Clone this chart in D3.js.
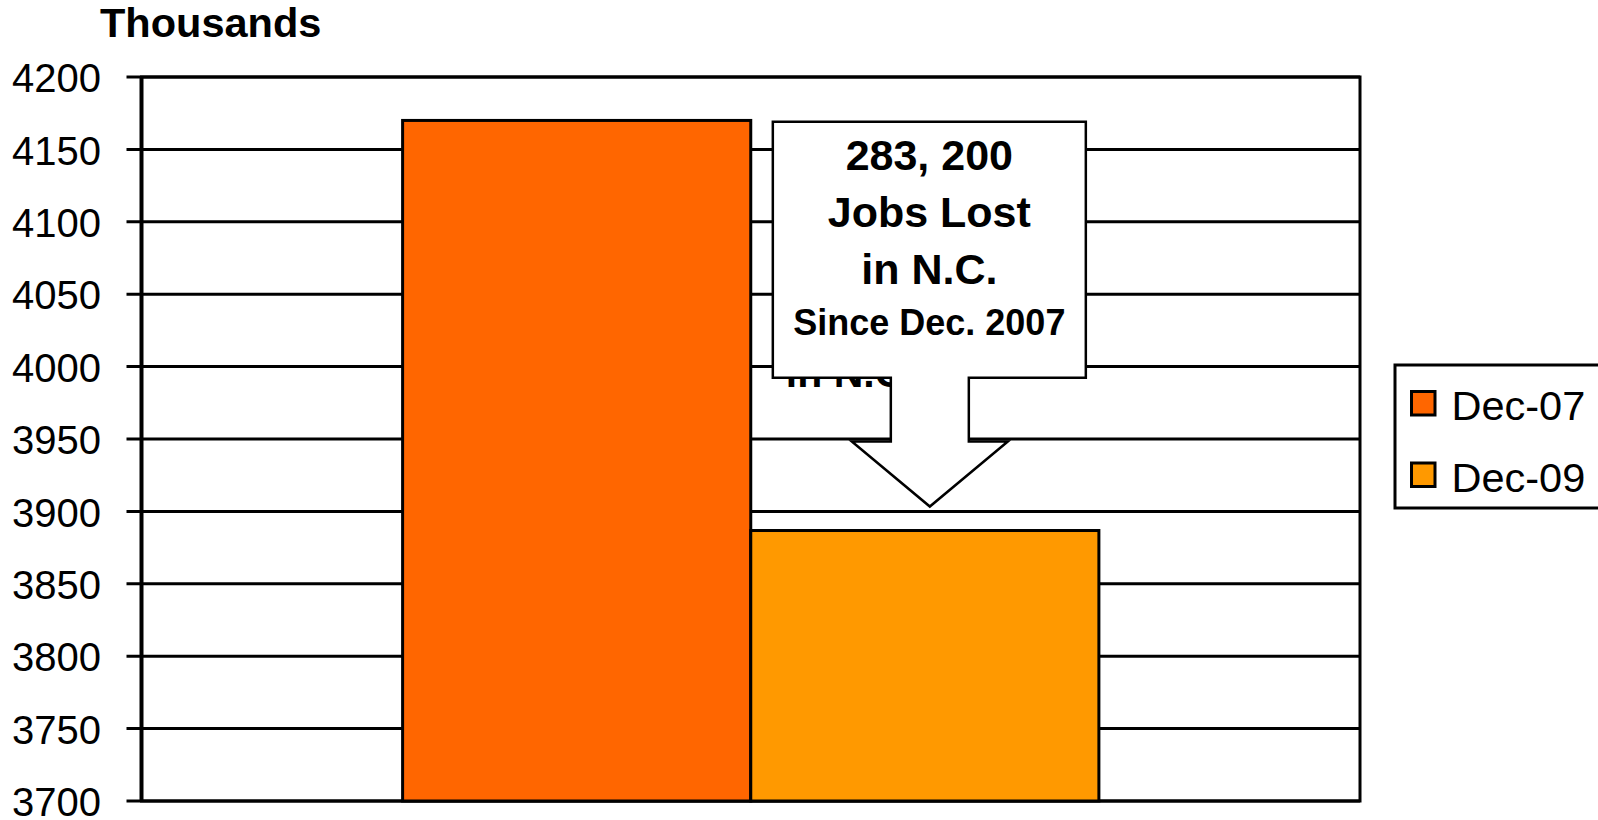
<!DOCTYPE html>
<html>
<head>
<meta charset="utf-8">
<script src="https://cdn.jsdelivr.net/npm/d3@7/dist/d3.min.js"></script>
<style>
  html, body { margin: 0; padding: 0; background: #fff; }
  svg { display: block; font-family: 'Liberation Sans', Arial, Helvetica, sans-serif; }
</style>
</head>
<body>
<div id="chart"></div>
<script>
// data (thousands of jobs, N.C.)
const categories = [''];
const seriesNames = ['Dec-07', 'Dec-09'];
const seriesValues = [4170.0, 3886.8];
const seriesColors = ['#FF6600', '#FF9900'];
const yDomain = [3700, 4200];
const yTickStep = 50;
const calloutLines = ['283, 200', 'Jobs Lost', 'in N.C.', 'Since Dec. 2007'];

const width = 1598;
const height = 820;
const plot = { left: 141.5, top: 77, right: 1360, bottom: 801 };

const svg = d3.select('#chart')
  .append('svg')
  .attr('width', width)
  .attr('height', height);

const y = d3.scaleLinear().domain(yDomain).range([plot.bottom, plot.top]);
const x0 = d3.scaleBand()
  .domain(categories)
  .range([plot.left, plot.right])
  .paddingInner(0)
  .paddingOuter(0.375);
const x1 = d3.scaleBand()
  .domain(seriesNames)
  .range([0, x0.bandwidth()]);

const yTicks = d3.range(yDomain[0], yDomain[1] + 1, yTickStep);

// gridlines + tick marks
svg.append('g')
  .selectAll('line')
  .data(yTicks)
  .join('line')
  .attr('x1', plot.left - 15)
  .attr('x2', plot.right)
  .attr('y1', (d) => y(d))
  .attr('y2', (d) => y(d))
  .attr('stroke', '#000')
  .attr('stroke-width', 3);

// tick labels
svg.append('g')
  .selectAll('text')
  .data(yTicks)
  .join('text')
  .attr('x', 101)
  .attr('y', (d) => y(d))
  .attr('dy', '0.38em')
  .attr('text-anchor', 'end')
  .attr('font-size', '40px')
  .attr('fill', '#000')
  .text((d) => d);

// axis title
svg.append('text')
  .attr('x', 100)
  .attr('y', 37)
  .attr('font-size', '41.5px')
  .attr('font-weight', 'bold')
  .text('Thousands');

// plot frame
svg.append('rect')
  .attr('x', plot.left)
  .attr('y', plot.top)
  .attr('width', plot.right - plot.left)
  .attr('height', plot.bottom - plot.top)
  .attr('fill', 'none')
  .attr('stroke', '#000')
  .attr('stroke-width', 3);

svg.append('line')
  .attr('x1', plot.left)
  .attr('x2', plot.left)
  .attr('y1', plot.top)
  .attr('y2', plot.bottom)
  .attr('stroke', '#000')
  .attr('stroke-width', 4);

// bars
const barData = seriesNames.map((name, i) => ({ name, value: seriesValues[i], color: seriesColors[i] }));
svg.append('g')
  .attr('transform', `translate(${x0(categories[0])},0)`)
  .selectAll('rect')
  .data(barData)
  .join('rect')
  .attr('x', (d) => x1(d.name))
  .attr('y', (d) => y(d.value))
  .attr('width', x1.bandwidth())
  .attr('height', (d) => y(yDomain[0]) - y(d.value))
  .attr('fill', (d) => d.color)
  .attr('stroke', '#000')
  .attr('stroke-width', 3);

// callout, anchored on the Dec-09 bar
const tipX = x0(categories[0]) + x1('Dec-09') + x1.bandwidth() / 2 + 5;
const tipY = y(seriesValues[1]) - 24;
const box = { left: tipX - 157, right: tipX + 156, top: 121.7, bottom: 377.7 };
const stem = { left: tipX - 39, right: tipX + 39, bottom: tipY - 65 };
const wing = { left: tipX - 78, right: tipX + 78 };

// stray label partly hidden under the callout
svg.append('text')
  .attr('x', box.left + 13)
  .attr('y', 387)
  .attr('font-size', '41px')
  .attr('font-weight', 'bold')
  .text('in N.C.');

const p = d3.path();
p.moveTo(box.left, box.top);
p.lineTo(box.right, box.top);
p.lineTo(box.right, box.bottom);
p.lineTo(stem.right, box.bottom);
p.lineTo(stem.right, stem.bottom);
p.lineTo(wing.right, stem.bottom);
p.lineTo(tipX, tipY);
p.lineTo(wing.left, stem.bottom);
p.lineTo(stem.left, stem.bottom);
p.lineTo(stem.left, box.bottom);
p.lineTo(box.left, box.bottom);
p.closePath();

svg.append('path')
  .attr('d', p.toString())
  .attr('fill', '#fff')
  .attr('stroke', '#000')
  .attr('stroke-width', 2.5);

const cx = (box.left + box.right) / 2;
const lineY = [170, 227, 284, 335];
const lineSize = ['43px', '43px', '43px', '36px'];
svg.append('g')
  .selectAll('text')
  .data(calloutLines)
  .join('text')
  .attr('x', cx)
  .attr('y', (d, i) => lineY[i])
  .attr('text-anchor', 'middle')
  .attr('font-size', (d, i) => lineSize[i])
  .attr('font-weight', 'bold')
  .text((d) => d);

// legend
const legend = svg.append('g');
legend.append('rect')
  .attr('x', 1395)
  .attr('y', 365)
  .attr('width', 210)
  .attr('height', 143)
  .attr('fill', '#fff')
  .attr('stroke', '#000')
  .attr('stroke-width', 3);

const legendItem = legend.selectAll('g')
  .data(barData)
  .join('g')
  .attr('transform', (d, i) => `translate(1411.5,${391.5 + i * 71.5})`);

legendItem.append('rect')
  .attr('width', 23.5)
  .attr('height', 23.5)
  .attr('fill', (d) => d.color)
  .attr('stroke', '#000')
  .attr('stroke-width', 3);

legendItem.append('text')
  .attr('x', 40)
  .attr('y', 28.5)
  .attr('font-size', '41.5px')
  .text((d) => d.name);
</script>
</body>
</html>
